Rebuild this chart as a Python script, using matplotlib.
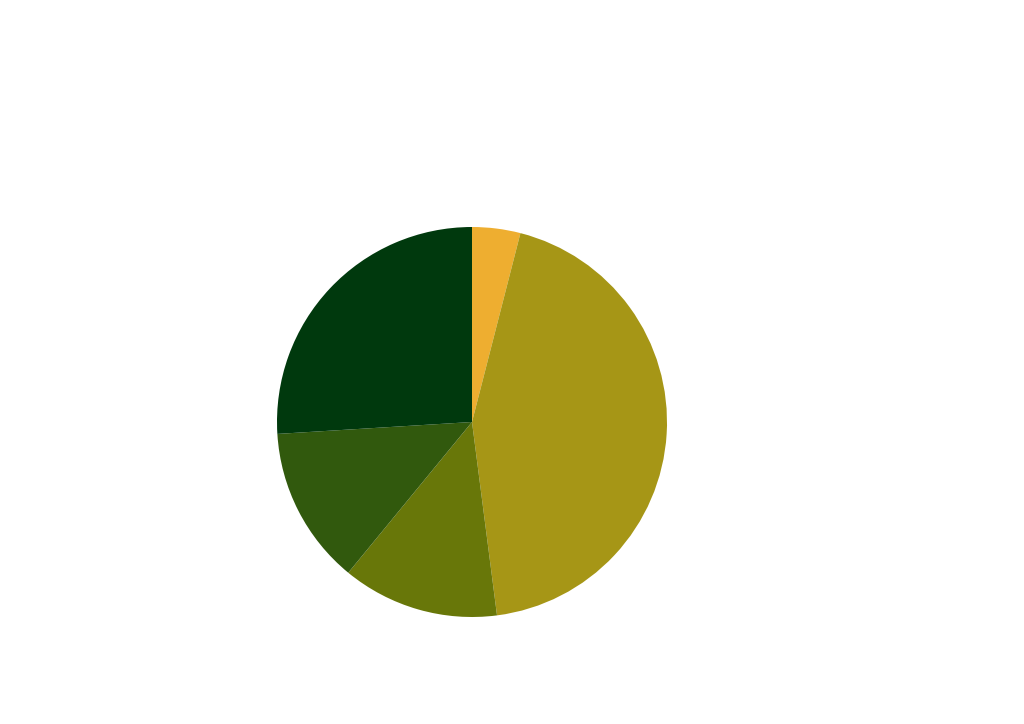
import matplotlib
matplotlib.use("Agg")
import matplotlib.pyplot as plt

labels = ["A", "B", "C", "D", "E"]
values = [4.0, 44.0, 13.0, 13.1, 26.0]
colors = ["#EEAE30", "#A69616", "#687709", "#31590D", "#00390D"]

fig = plt.figure(figsize=(10.24, 7.24), dpi=100)
ax = fig.add_axes([(472 - 195) / 1024, (724 - 422 - 195) / 724, 390 / 1024, 390 / 724])
ax.pie(values, colors=colors, startangle=90, counterclock=False,
       wedgeprops=dict(linewidth=0))
ax.set_xlim(-1, 1)
ax.set_ylim(-1, 1)
ax.set_aspect("equal")
ax.axis("off")
fig.savefig("out.png", dpi=100)
